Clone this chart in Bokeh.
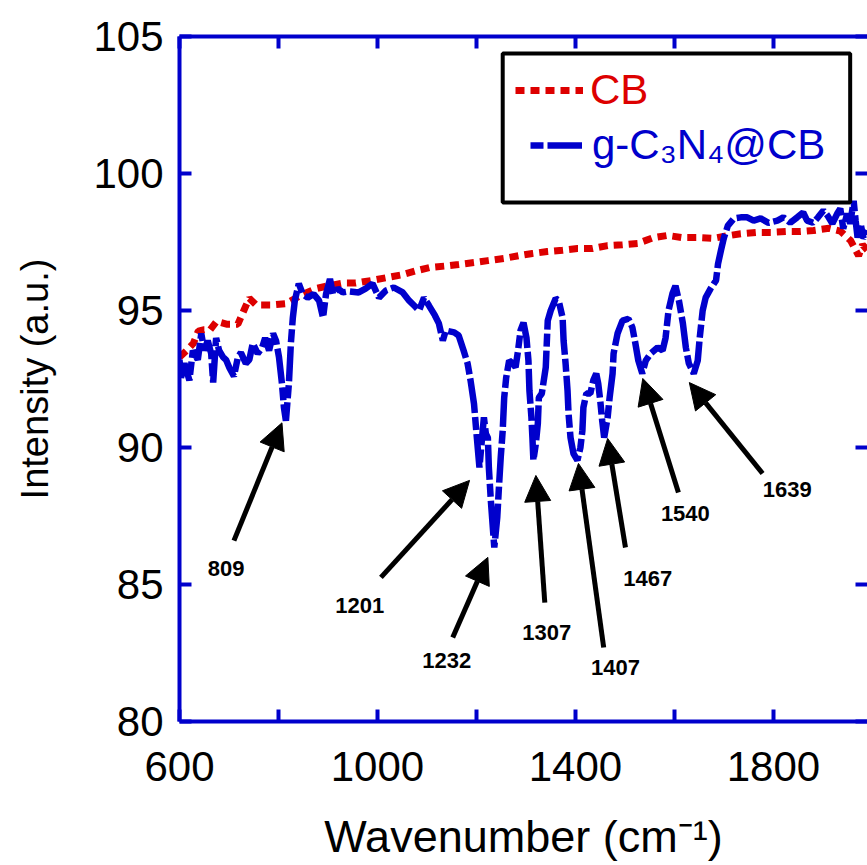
from bokeh.plotting import figure
from bokeh.models import (Range1d, LinearAxis, FixedTicker, Arrow, NormalHead,
                          ColumnDataSource, Legend, LegendItem, BoxAnnotation)
from bokeh.core.properties import value
from bokeh.embed import file_html
from bokeh.resources import INLINE

# ---------------- data ----------------
cb_x = [600, 615, 628, 638, 650, 662, 675, 695, 718, 730, 741, 755, 785, 815, 848,
        876, 900, 930, 956, 989, 1019, 1049, 1078, 1106, 1135, 1164, 1195, 1223,
        1255, 1285, 1313, 1343, 1374, 1404, 1434, 1465, 1495, 1526, 1558, 1586,
        1616, 1647, 1677, 1705, 1734, 1765, 1795, 1825, 1855, 1881, 1912, 1935,
        1956, 1972, 1980, 1990]
cb_y = [93.3, 93.55, 93.8, 94.25, 94.3, 94.3, 94.6, 94.5, 94.5, 95.0, 95.45, 95.2,
        95.2, 95.25, 95.58, 95.8, 95.9, 96.0, 96.0, 96.1, 96.2, 96.3, 96.45, 96.57,
        96.62, 96.68, 96.75, 96.82, 96.9, 97.0, 97.08, 97.15, 97.2, 97.26, 97.26,
        97.37, 97.4, 97.45, 97.66, 97.74, 97.66, 97.66, 97.63, 97.72, 97.8, 97.85,
        97.85, 97.88, 97.88, 97.92, 98.0, 97.9, 97.55, 97.0, 97.4, 97.2]

gcn_x = [600, 603, 610, 620, 627, 637, 644, 650, 657, 664, 668, 674, 680, 688, 694,
         701, 710, 718, 724, 734, 741, 748, 758, 767, 773, 781, 789, 795, 801, 807,
         811, 815, 821, 825, 829, 833, 841, 849, 859, 871, 882, 890, 896, 904, 910,
         920, 930, 942, 962, 976, 990, 1003, 1017, 1033, 1051, 1064, 1074, 1084,
         1094, 1104, 1116, 1124, 1132, 1138, 1155, 1164, 1174, 1182, 1188, 1195,
         1199, 1203, 1206, 1209, 1215, 1219, 1223, 1225, 1229, 1233, 1236, 1242,
         1245, 1249, 1253, 1256, 1260, 1266, 1273, 1279, 1284, 1289, 1295, 1301,
         1305, 1307, 1311, 1313, 1315, 1320, 1324, 1326, 1332, 1340, 1342, 1344,
         1350, 1360, 1366, 1374, 1376, 1380, 1384, 1386, 1390, 1396, 1404, 1410,
         1414, 1416, 1422, 1430, 1436, 1442, 1446, 1450, 1454, 1458, 1465, 1469,
         1475, 1477, 1485, 1495, 1507, 1515, 1521, 1527, 1535, 1542, 1552, 1566,
         1576, 1582, 1588, 1596, 1602, 1609, 1617, 1623, 1629, 1639, 1647, 1651,
         1657, 1663, 1673, 1684, 1688, 1694, 1700, 1708, 1720, 1734, 1747, 1760,
         1774, 1790, 1808, 1820, 1834, 1848, 1860, 1868, 1880, 1890, 1901, 1909,
         1919, 1929, 1935, 1941, 1949, 1955, 1962, 1966, 1970, 1976, 1982, 1990]
gcn_y = [93.2, 92.55, 93.07, 92.45, 93.54, 93.2, 94.16, 93.54, 93.9, 93.43, 92.37,
         94.0, 93.54, 93.3, 93.2, 92.9, 92.6, 93.3, 93.46, 93.07, 93.2, 93.8, 93.43,
         93.65, 94.0, 93.54, 94.16, 93.9, 93.3, 92.33, 91.46, 90.98, 92.33, 93.8,
         94.74, 95.36, 95.98, 95.6, 95.47, 95.6, 95.36, 94.74, 95.6, 96.15, 95.6,
         95.8, 95.66, 95.7, 95.66, 95.8, 95.98, 95.47, 95.73, 95.84, 95.66, 95.36,
         95.18, 95.0, 95.47, 95.18, 94.82, 94.53, 93.9, 94.27, 94.2, 94.09, 93.54,
         93.07, 92.45, 91.6, 90.73, 89.89, 89.27, 89.89, 91.1, 90.5, 90.36, 89.27,
         88.07, 87.08, 86.35, 87.45, 88.43, 89.64, 90.62, 91.82, 92.55, 93.17, 93.07,
         92.93, 93.54, 94.27, 94.56, 94.0, 93.17, 92.07, 91.1, 90.36, 89.53, 90.15,
         90.88, 91.82, 91.97, 92.93, 93.8, 94.63, 95.0, 95.44, 95.36, 94.74, 93.9,
         93.07, 92.07, 91.24, 90.36, 89.78, 89.53, 90.0, 90.62, 91.46, 91.97, 91.97,
         92.45, 92.7, 92.33, 91.72, 90.98, 90.36, 91.1, 91.82, 92.7, 93.43, 94.16,
         94.63, 94.7, 94.38, 93.8, 93.17, 92.7, 93.17, 93.43, 93.65, 93.54, 94.0,
         95.0, 95.62, 95.9, 95.36, 94.53, 93.65, 93.07, 92.7, 93.17, 94.0, 95.0,
         95.47, 95.8, 96.1, 96.7, 97.2, 97.66, 98.1, 98.36, 98.4, 98.4, 98.28, 98.36,
         98.2, 98.28, 98.4, 98.2, 98.4, 98.58, 98.28, 98.2, 98.4, 98.65, 98.47,
         98.17, 98.54, 98.72, 97.99, 98.54, 98.17, 99.0, 98.28, 97.66, 98.17, 97.63,
         97.92]

x_ticks_labeled = [600, 1000, 1400, 1800]
x_ticks_minor = [800, 1200, 1600]
y_ticks = [80, 85, 90, 95, 100, 105]

peak_labels = ["809", "1201", "1232", "1307", "1407", "1467", "1540", "1639"]
label_x = [694, 964, 1140, 1342, 1481, 1546, 1622, 1828]
label_y = [85.58, 84.23, 82.23, 83.25, 81.97, 85.22, 87.59, 88.47]
arrow_x0 = [710, 1007, 1152, 1338, 1457, 1501, 1608, 1778]
arrow_y0 = [86.6, 85.26, 83.07, 84.34, 82.7, 86.35, 88.36, 89.05]
arrow_x1 = [807, 1186, 1223, 1320, 1406, 1465, 1536, 1630]
arrow_y1 = [90.9, 88.8, 85.99, 88.98, 89.42, 90.33, 92.52, 92.37]

RED = "#DD0000"
BLUE = "#0000CC"
FONT = "Liberation Sans"

# ---------------- figure ----------------
p = figure(width=867, height=865, x_range=Range1d(600, 1990), y_range=Range1d(80, 105),
           output_backend="svg", toolbar_location=None,
           min_border_left=179, min_border_top=36, min_border_bottom=144,
           min_border_right=0)
p.outline_line_color = None
p.xgrid.visible = False
p.ygrid.visible = False
p.background_fill_color = "white"
p.border_fill_color = "white"

r_cb = p.line(cb_x, cb_y, line_color=RED, line_width=7, line_dash="9 6")
r_g = p.line(gcn_x, gcn_y, line_color=BLUE, line_width=6.5, line_dash="13 4 35 4")


def style_axis(ax):
    ax.axis_line_color = BLUE
    ax.axis_line_width = 4
    ax.major_tick_line_color = BLUE
    ax.major_tick_line_width = 4
    ax.major_tick_in = 12
    ax.major_tick_out = 0
    ax.minor_tick_line_color = BLUE
    ax.minor_tick_line_width = 4
    ax.minor_tick_in = 12
    ax.minor_tick_out = 0
    ax.major_label_text_font = FONT
    ax.major_label_text_font_size = "42px"
    ax.major_label_text_color = "black"
    ax.axis_label_text_font = FONT
    ax.axis_label_text_font_style = "normal"
    ax.axis_label_text_color = "black"


xa = p.xaxis[0]
xa.ticker = FixedTicker(ticks=x_ticks_labeled, minor_ticks=x_ticks_minor)
style_axis(xa)
xa.major_label_standoff = 30
xa.axis_label = "Wavenumber (cm\u207b\u00b9)"
xa.axis_label_text_font_size = "45px"
xa.axis_label_standoff = 27

ya = p.yaxis[0]
ya.ticker = FixedTicker(ticks=y_ticks, minor_ticks=[])
style_axis(ya)
ya.major_label_standoff = 16
ya.axis_label = "Intensity (a.u.)"
ya.axis_label_text_font_size = "38px"
ya.axis_label_standoff = 34

top = LinearAxis(ticker=FixedTicker(ticks=x_ticks_labeled, minor_ticks=x_ticks_minor))
style_axis(top)
top.major_label_overrides = {t: "" for t in x_ticks_labeled}
top.major_label_standoff = 0
p.add_layout(top, "above")

right = LinearAxis(ticker=FixedTicker(ticks=y_ticks, minor_ticks=[]))
style_axis(right)
right.axis_line_color = None
right.major_label_overrides = {t: "" for t in y_ticks}
right.major_label_standoff = 0
p.add_layout(right, "right")

# ---------------- annotations ----------------
src = ColumnDataSource(dict(x0=arrow_x0, y0=arrow_y0, x1=arrow_x1, y1=arrow_y1))
p.add_layout(Arrow(end=NormalHead(size=26, fill_color="black", line_color="black", line_width=1),
                   x_start="x0", y_start="y0", x_end="x1", y_end="y1", source=src,
                   line_color="black", line_width=5))
p.text(x=label_x, y=label_y, text=peak_labels, text_font=value(FONT),
       text_font_style="bold", text_font_size="22px", text_align="center",
       text_baseline="middle", text_color="black")

# ---------------- legend ----------------
p.add_layout(BoxAnnotation(left=1253, right=1955, top=104.38, bottom=98.94,
                           fill_alpha=0, line_color="black", line_alpha=1,
                           line_width=4))

leg_common = dict(border_line_color=None, background_fill_alpha=0, padding=0,
                  margin=0, spacing=0, label_text_font=FONT,
                  label_text_font_size="42px", glyph_height=40)
leg1 = Legend(items=[LegendItem(label="CB", renderers=[r_cb])], location=(336, 607),
              glyph_width=68, label_standoff=7, label_text_color=RED, **leg_common)
leg2 = Legend(items=[LegendItem(label="g-C\u2083N\u2084@CB", renderers=[r_g])],
              location=(351, 552), glyph_width=52, label_standoff=10,
              label_text_color=BLUE, **leg_common)
p.add_layout(leg1)
p.add_layout(leg2)

open("out.html", "w").write(file_html(p, INLINE))
